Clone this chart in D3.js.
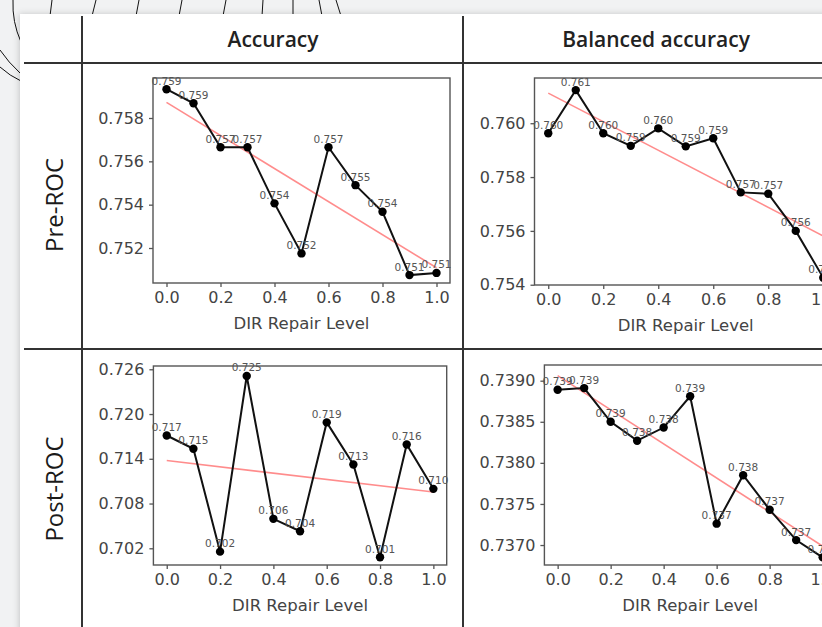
<!DOCTYPE html>
<html>
<head>
<meta charset="utf-8">
<script src="https://cdn.jsdelivr.net/npm/d3@7"></script>
<style>
  html, body { margin: 0; padding: 0; background: #f1f2f3; }
  svg { display: block; }
</style>
</head>
<body>
<div id="chart"></div>
<script>
// DIR repair levels on the x axis
const levels = [0, 0.1, 0.2, 0.3, 0.4, 0.5, 0.6, 0.7, 0.8, 0.9, 1.0];
const xTicks = [0, 0.2, 0.4, 0.6, 0.8, 1.0];

// values
const preAcc  = [0.75933, 0.75868, 0.75665, 0.75665, 0.75406, 0.75175, 0.75665, 0.75490, 0.75367, 0.75075, 0.75085];
const preBal  = [0.75963, 0.76123, 0.75963, 0.75916, 0.75981, 0.75914, 0.75944, 0.75743, 0.75738, 0.75600, 0.75426];
const postAcc = [0.71712, 0.71534, 0.70155, 0.72510, 0.70595, 0.70429, 0.71888, 0.71324, 0.70080, 0.71592, 0.70997];
const postBal = [0.73889, 0.73891, 0.73850, 0.73827, 0.73843, 0.73881, 0.73726, 0.73785, 0.73743, 0.73706, 0.73685];

const preAccTicks  = [0.752, 0.754, 0.756, 0.758];
const preBalTicks  = [0.754, 0.756, 0.758, 0.760];
const postAccTicks = [0.702, 0.708, 0.714, 0.720, 0.726];
const postBalTicks = [0.7370, 0.7375, 0.7380, 0.7385, 0.7390];

const columns = ["Accuracy", "Balanced accuracy"];
const rows = ["Pre-ROC", "Post-ROC"];

const W = 822, H = 627;
const svg = d3.select("#chart").append("svg").attr("width", W).attr("height", H);

// page background + doodle strokes peeking out behind the card
svg.append("rect").attr("width", W).attr("height", H).attr("fill", "#f1f2f3");
const deco = svg.append("g").attr("fill", "none").attr("stroke", "#111").attr("stroke-width", 1);
[[52,0,50,16],[96,0,92,16],[139,0,136,16],[182,0,179,16],[226,0,223,16],[263,0,262,16],[293,0,293,16],[319,0,322,16],[336,0,341,16]]
  .forEach(d => deco.append("line").attr("x1", d[0]).attr("y1", d[1]).attr("x2", d[2]).attr("y2", d[3]));
deco.append("path").attr("d", "M13,0 Q12,22 21,42");
deco.append("path").attr("d", "M0,50 Q8,62 21,74");
deco.append("path").attr("d", "M0,67 Q10,76 21,81");

// white card with a soft shadow
const defs = svg.append("defs");
const f = defs.append("filter").attr("id", "sh").attr("x", "-10%").attr("y", "-10%").attr("width", "120%").attr("height", "120%");
f.append("feDropShadow").attr("dx", -1).attr("dy", 0).attr("stdDeviation", 3).attr("flood-color", "#000").attr("flood-opacity", 0.18);
svg.append("rect").attr("x", 20).attr("y", 14).attr("width", W).attr("height", H)
  .attr("fill", "#fff").attr("filter", "url(#sh)");

// table grid
const grid = svg.append("g").attr("stroke", "#333").attr("stroke-width", 2);
grid.append("line").attr("x1", 82).attr("x2", 82).attr("y1", 16).attr("y2", H);
grid.append("line").attr("x1", 463).attr("x2", 463).attr("y1", 16).attr("y2", H);
grid.append("line").attr("x1", 24).attr("x2", W).attr("y1", 63).attr("y2", 63);
grid.append("line").attr("x1", 24).attr("x2", W).attr("y1", 349).attr("y2", 349);

// headers
svg.selectAll(".colhead").data(columns).join("text")
  .attr("x", (d, i) => [273, 656][i]).attr("y", 47)
  .attr("text-anchor", "middle")
  .style("font-family", "'Open Sans', sans-serif").style("font-weight", 600)
  .style("font-size", "21px").attr("fill", "#222")
  .text(d => d);
svg.selectAll(".rowhead").data(rows).join("text")
  .attr("transform", (d, i) => `translate(63,${[205, 489][i]}) rotate(-90)`)
  .attr("text-anchor", "middle")
  .style("font-family", "'Open Sans', sans-serif").style("font-size", "24px").attr("fill", "#1a1a1a")
  .text(d => d);

const panels = [
  { vals: preAcc,  ticks: preAccTicks,  fmt: ".3f", left: 153,   right: 450,   top: 78,  bottom: 283, dom: [0.750385, 0.759846] },
  { vals: preBal,  ticks: preBalTicks,  fmt: ".3f", left: 534.5, right: 837,   top: 78,  bottom: 285, dom: [0.75399, 0.76168] },
  { vals: postAcc, ticks: postAccTicks, fmt: ".3f", left: 153.4, right: 446.7, top: 366, bottom: 565, dom: [0.69976, 0.72644] },
  { vals: postBal, ticks: postBalTicks, fmt: ".4f", left: 544.4, right: 835.9, top: 365, bottom: 565, dom: [0.736757, 0.739191] }
];

function fitLine(xs, ys) {
  const mx = d3.mean(xs), my = d3.mean(ys);
  const sxy = d3.sum(xs, (x, i) => (x - mx) * (ys[i] - my));
  const sxx = d3.sum(xs, x => (x - mx) * (x - mx));
  const b = sxy / sxx;
  return x => my + b * (x - mx);
}

panels.forEach(p => {
  const x = d3.scaleLinear().domain([-0.05, 1.05]).range([p.left, p.right]);
  const y = d3.scaleLinear().domain(p.dom).range([p.bottom, p.top]);
  const g = svg.append("g");

  const ya = g.append("g").attr("transform", `translate(${p.left},0)`)
    .call(d3.axisLeft(y).tickValues(p.ticks).tickFormat(d3.format(p.fmt)).tickSize(4).tickPadding(5));
  const xa = g.append("g").attr("transform", `translate(0,${p.bottom})`)
    .call(d3.axisBottom(x).tickValues(xTicks).tickFormat(d3.format(".1f")).tickSize(4).tickPadding(5));
  [ya, xa].forEach(a => {
    a.select(".domain").remove();
    a.selectAll("line").attr("stroke", "#555").attr("stroke-width", 1.3);
    a.selectAll("text").attr("fill", "#444")
      .style("font-family", "'DejaVu Sans', sans-serif").style("font-size", "16px");
  });

  g.append("rect").attr("x", p.left).attr("y", p.top)
    .attr("width", p.right - p.left).attr("height", p.bottom - p.top)
    .attr("fill", "none").attr("stroke", "#555").attr("stroke-width", 1.4);

  g.append("text").attr("x", x(0.5)).attr("y", p.bottom + 46)
    .attr("text-anchor", "middle").attr("fill", "#444")
    .style("font-family", "'DejaVu Sans', sans-serif").style("font-size", "16.5px")
    .text("DIR Repair Level");

  const fit = fitLine(levels, p.vals);
  g.append("line")
    .attr("x1", x(0)).attr("y1", y(fit(0))).attr("x2", x(1)).attr("y2", y(fit(1)))
    .attr("stroke", "#ff0000").attr("stroke-opacity", 0.45).attr("stroke-width", 1.6);

  g.append("path").datum(p.vals)
    .attr("d", d3.line().x((d, i) => x(levels[i])).y(d => y(d)))
    .attr("fill", "none").attr("stroke", "#111").attr("stroke-width", 2);

  g.selectAll("circle").data(p.vals).join("circle")
    .attr("cx", (d, i) => x(levels[i])).attr("cy", d => y(d)).attr("r", 4.2)
    .attr("fill", "#000");

  g.selectAll(".lbl").data(p.vals).join("text")
    .attr("x", (d, i) => x(levels[i])).attr("y", d => y(d) - 4.5)
    .attr("text-anchor", "middle").attr("fill", "#555")
    .style("font-family", "'DejaVu Sans', sans-serif").style("font-size", "10.5px")
    .text(d => d.toFixed(3));
});
</script>
</body>
</html>
